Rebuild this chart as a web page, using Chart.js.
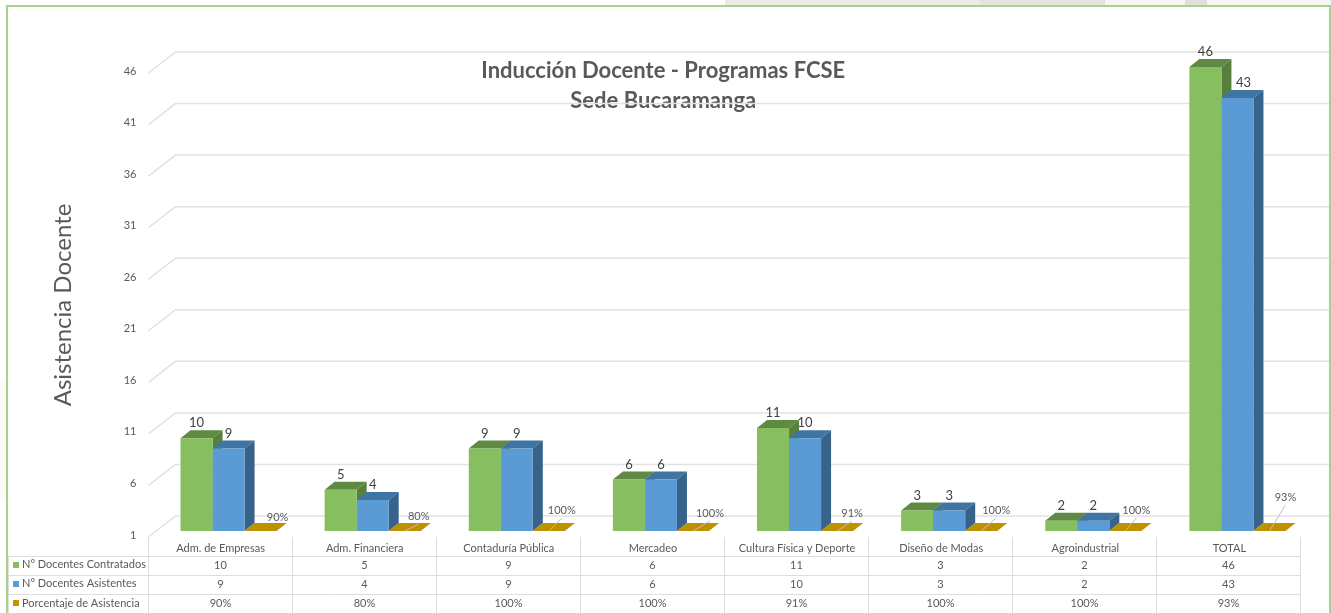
<!DOCTYPE html>
<html><head><meta charset="utf-8">
<style>html,body{margin:0;padding:0;background:#fff}#w{width:1331px;height:613px;position:relative}</style>
<script src="https://cdn.jsdelivr.net/npm/chart.js@4"></script>
</head><body><div id="w"><canvas id="c" width="1331" height="613"></canvas></div>
<script>
const categories = ['Adm. de Empresas','Adm. Financiera','Contaduría Pública','Mercadeo','Cultura Física y Deporte','Diseño de Modas','Agroindustrial','TOTAL'];
const contratados = [10,5,9,6,11,3,2,46];
const asistentes = [9,4,9,6,10,3,2,43];
const porcentaje = [90,80,100,100,91,100,100,93];
const tickValues = [1,6,11,16,21,26,31,36,41,46];
const seriesNames = ['N° Docentes Contratados','N° Docentes Asistentes','Porcentaje de Asistencia'];

const TXT='#595959', FONT='Lato, "Open Sans", sans-serif';
const COL=[{front:'#87BE60',top:'#5F8A43',side:'#587F3C'},{front:'#5B9BD5',top:'#3F74A3',side:'#37638A'},{front:'#C49400',top:'#BF9000',side:'#A87A00'}];
const BD={x:10,y:-8};            // bar extrusion
const FLOOR={fx:-8,fy:6,bx:18,by:-15}; // wall/floor offsets from bar plane
// nudges of the percentage labels from their default spot, as the source placed them by hand
const pctLabelNudge=[[17,14],[14,15],[13,21],[17,18],[15,18],[15,21],[11,21],[16,34]];
const pct=v=>v+'%';
// faint photo background that shows above the frame
const topStrip=[[725,255,'#ecece7'],[980,125,'#e4e4df'],[1105,80,'#f5f5f3'],[1185,22,'#e0e0dc'],[1207,124,'#f3f6f2']];

const faces={id:'faces',
 beforeDraw(ch){
  const {ctx}=ch; ctx.save();
  topStrip.forEach(([a,w,c])=>{ctx.fillStyle=c;ctx.fillRect(a,0,w,5);});
  ctx.fillStyle='#fbfbfa'; ctx.fillRect(0,380,6,120);
  ctx.strokeStyle='#A9D18E'; ctx.lineWidth=2;
  ctx.beginPath(); ctx.moveTo(7,613); ctx.lineTo(7,6); ctx.lineTo(1330,6); ctx.lineTo(1330,613); ctx.stroke();
  ctx.restore();
 },
 beforeDatasetsDraw(ch){
  const {ctx,scales:{x,y}}=ch; ctx.save();
  const L=x.left+FLOOR.fx, BL=L+27;
  ctx.strokeStyle='#e2e2e2'; ctx.lineWidth=1.5;
  tickValues.forEach(v=>{const p=y.getPixelForValue(v);
   ctx.beginPath(); ctx.moveTo(L,p+FLOOR.fy); ctx.lineTo(BL,p+FLOOR.by); ctx.lineTo(1329,p+FLOOR.by); ctx.stroke();});
  // table
  ctx.strokeStyle='#dedede'; ctx.lineWidth=1;
  const rows=[556.5,575.5,594.5];
  rows.forEach(r=>{ctx.beginPath();ctx.moveTo(8.5,r);ctx.lineTo(L+1152,r);ctx.stroke();});
  ctx.beginPath();ctx.moveTo(8.5,556);ctx.lineTo(8.5,613);ctx.stroke();
  for(let i=0;i<=categories.length;i++){const X=Math.floor(L+144*i)+.5;ctx.beginPath();ctx.moveTo(X,537);ctx.lineTo(X,613);ctx.stroke();}
  // 3D faces
  ch.data.datasets.forEach((d,di)=>{
   ch.getDatasetMeta(di).data.forEach((b,i)=>{
    const {x:cx,width:w}=b.getProps(['x','width'],true);
    const xl=cx-w/2,xr=cx+w/2,yt=y.getPixelForValue(Math.max(d.data[i],y.min)),yb=y.bottom;
    ctx.fillStyle=COL[di].top;
    ctx.beginPath();ctx.moveTo(xl,yt);ctx.lineTo(xl+BD.x,yt+BD.y);ctx.lineTo(xr+BD.x,yt+BD.y);ctx.lineTo(xr,yt);ctx.closePath();ctx.fill();
    ctx.fillStyle=COL[di].side;
    ctx.beginPath();ctx.moveTo(xr,yt);ctx.lineTo(xr+BD.x,yt+BD.y);ctx.lineTo(xr+BD.x,yb+BD.y);ctx.lineTo(xr,yb);ctx.closePath();ctx.fill();
   });
  });
  ctx.restore();
 },
 afterDatasetsDraw(ch){
  const {ctx,scales:{x,y}}=ch; ctx.save();
  const L=x.left+FLOOR.fx;
  ctx.textAlign='center'; ctx.textBaseline='middle';
  // value labels
  ctx.fillStyle='#404040'; ctx.font='13px '+FONT;
  [contratados,asistentes].forEach((arr,di)=>{
   ch.getDatasetMeta(di).data.forEach((b,i)=>{
    const dx=(di===1&&i===7)?6:0;
    ctx.fillText(arr[i],b.x+dx,y.getPixelForValue(arr[i])-15);
   });
  });
  ctx.font='11px '+FONT; ctx.fillStyle=TXT;
  ch.getDatasetMeta(2).data.forEach((b,i)=>{
   const [dx,dy]=pctLabelNudge[i];
   if(dy>=15){ctx.strokeStyle='#bfbfbf';ctx.lineWidth=1;ctx.beginPath();ctx.moveTo(b.x,y.bottom);ctx.lineTo(b.x+dx,y.bottom-dy+8);ctx.stroke();}
   ctx.fillText(pct(porcentaje[i]),b.x+dx,y.bottom-dy);
  });
  // table text
  const rowsY=[565,584,603];
  ctx.font='11px '+FONT; ctx.fillStyle=TXT;
  [contratados,asistentes,porcentaje.map(pct)].forEach((arr,r)=>{
   arr.forEach((v,i)=>ctx.fillText(v,L+144*i+72,rowsY[r]));
   ctx.textAlign='left';
   ctx.fillText(seriesNames[r],22,rowsY[r]-(r<2?1:0));
   ctx.fillStyle=COL[r].front; ctx.fillRect(13,rowsY[r]-3,6,6); ctx.fillStyle=TXT;
   ctx.textAlign='center';
  });
  ctx.restore();
 },
 afterLayout(ch){
  const t=ch.titleBlock; t.top+=49; t.bottom+=49; t.left-=16; t.right-=16;
 }
};

new Chart(document.getElementById('c'),{
 type:'bar',
 plugins:[faces],
 data:{labels:categories,datasets:[
  {label:seriesNames[0],data:contratados,backgroundColor:COL[0].front},
  {label:seriesNames[1],data:asistentes,backgroundColor:COL[1].front},
  {label:seriesNames[2],data:porcentaje.map(p=>p/100),backgroundColor:COL[2].front}
 ]},
 options:{
  responsive:false,animation:false,
  layout:{padding:{left:49,right:21.5,top:7,bottom:0}},
  datasets:{bar:{categoryPercentage:2/3,barPercentage:1}},
  plugins:{legend:{display:false},tooltip:{enabled:false},
   title:{display:true,text:['Inducción Docente - Programas FCSE','Sede Bucaramanga'],color:TXT,
    font:{family:FONT,size:22,weight:'bold',lineHeight:30/22},padding:0}},
  scales:{
   x:{grid:{display:false,drawTicks:false},border:{display:false},
    ticks:{color:TXT,font:{family:FONT,size:11},padding:11,labelOffset:-8,autoSkip:false,maxRotation:0,minRotation:0},
    afterFit(s){s.height=82;}},
   y:{min:1,max:46,grid:{display:false,drawTicks:false},border:{display:false},
    ticks:{color:TXT,font:{family:FONT,size:11},padding:20,labelOffset:4},
    title:{display:true,text:'Asistencia Docente',color:TXT,font:{family:FONT,size:24},padding:0},
    afterBuildTicks(a){a.ticks=tickValues.map(value=>({value}));
     if(!a._w){a._w=1;const o=a.drawTitle;a.drawTitle=function(){const c=this.ctx;c.save();c.translate(0,6);o.apply(this,arguments);c.restore();};}},
    afterFit(s){s.width=107.5;}}
  }
 }
});
</script></body></html>
